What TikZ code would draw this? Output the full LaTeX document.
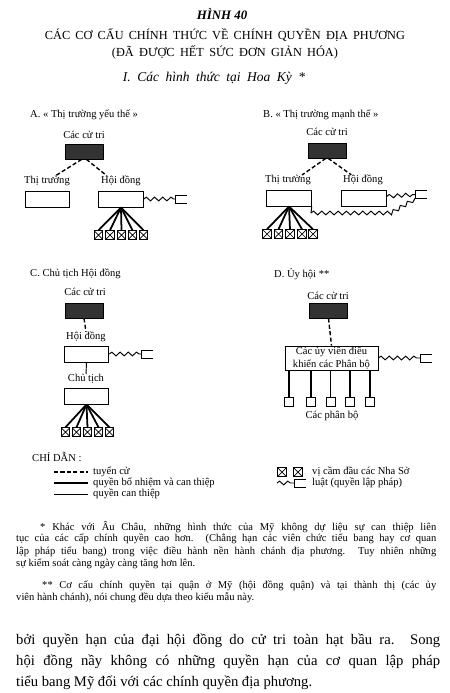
\documentclass[tikz,border=0pt]{standalone}
\usepackage{fontspec}
\setmainfont{Liberation Serif}
\usetikzlibrary{decorations.pathmorphing}

\begin{document}
\begin{tikzpicture}[x=0.03cm,y=-0.03cm,
    every node/.style={inner sep=0pt},
    lbl/.style={font=\fontsize{9}{10}\selectfont},
    box/.style={draw,line width=0.8pt,minimum width=1.34cm,minimum height=0.48cm},
    voters/.style={draw,fill=black!80,line width=0.6pt,minimum width=1.14cm,minimum height=0.45cm},
    office/.style={draw,line width=0.7pt,minimum size=0.26cm,
        path picture={\draw[line width=0.6pt] (path picture bounding box.north west) -- (path picture bounding box.south east)
            (path picture bounding box.south west) -- (path picture bounding box.north east);}},
    division/.style={draw,line width=0.8pt,minimum size=0.27cm},
    vote/.style={line width=1.2pt,dash pattern=on 3.5pt off 2pt},
    appoint/.style={line width=1.5pt},
    interv/.style={line width=0.8pt},
    law/.style={line width=0.8pt,decorate,decoration={snake,amplitude=1.6pt,segment length=7pt}},
    plug/.pic={\draw[line width=0.8pt] (12,-4) -- (0,-4) -- (0,4) -- (12,4);}]
    \useasboundingbox (0,0) rectangle (450,693);

    % headings
    \node[font=\bfseries\itshape\fontsize{11}{13}\selectfont] (fig) at (222,14) {HÌNH 40};
    \node[font=\fontsize{10.5}{12}\selectfont] (head1) at (225,35) {\makebox[10.8cm][s]{CÁC CƠ CẤU CHÍNH THỨC VỀ CHÍNH QUYỀN ĐỊA PHƯƠNG}};
    \node[font=\fontsize{10.5}{12}\selectfont] (head2) at (225,52) {\makebox[6.78cm][s]{(ĐÃ ĐƯỢC HẾT SỨC ĐƠN GIẢN HÓA)}};
    \node[font=\itshape\fontsize{11.5}{13}\selectfont] (part) at (214,78) {\makebox[5.46cm][s]{I. Các hình thức tại Hoa Kỳ *}};

    % A
    \node[lbl,anchor=west] (titA) at (30,115) {A. « Thị trường yếu thế »};
    \node[lbl] (ctAl) at (84,135) {Các cử tri};
    \node[voters] (ctA) at (84,151.5) {};
    \node[lbl] (ttAl) at (47,181) {Thị trường};
    \node[box] (ttA) at (47.5,199) {};
    \node[lbl] (hdAl) at (121,181) {Hội đồng};
    \node[box] (hdA) at (121,199) {};
    \draw[vote] ([xshift=-2pt]ctA.south) -- ([xshift=7pt]ttAl.north);
    \draw[vote] ([xshift=2pt]ctA.south) -- ([xshift=-12pt]hdAl.north);
    \coordinate (lawA) at (175,199);
    \draw[law] (hdA) -- (lawA);
    \pic at (lawA) {plug};
    \foreach \i/\x in {1/98.5,2/110,3/121.5,4/132.5,5/143.5}{
        \node[office] (sqA\i) at (\x,235) {};
        \draw[appoint] (hdA.south) -- (sqA\i.north);
    }

    % B
    \node[lbl,anchor=west] (titB) at (263,115) {B. « Thị trường mạnh thế »};
    \node[lbl] (ctBl) at (327,132) {Các cử tri};
    \node[voters] (ctB) at (327,150.5) {};
    \node[lbl] (ttBl) at (288,180) {Thị trường};
    \node[box] (ttB) at (289,198) {};
    \node[lbl] (hdBl) at (363,180) {Hội đồng};
    \node[box] (hdB) at (364,198) {};
    \draw[vote] ([xshift=-1pt]ctB.south) -- ([xshift=12pt]ttBl.north);
    \draw[vote] ([xshift=1pt]ctB.south) -- ([xshift=-10pt]hdBl.north);
    \coordinate (lawB) at (415,194.5);
    \coordinate (lawBb) at (415,198.5);
    \coordinate (bk1) at (311,213);
    \coordinate (bk2) at (390,213);
    \draw[law] (hdB) -- (lawB);
    \draw[interv] (ttB.south east) -- (bk1);
    \draw[law] (bk1) -- (bk2) -- (lawBb);
    \pic at (lawB) {plug};
    \foreach \i/\x in {1/267,2/278.5,3/290,4/302,5/313}{
        \node[office] (sqB\i) at (\x,234) {};
        \draw[appoint] (ttB.south) -- (sqB\i.north);
    }

    % C
    \node[lbl,anchor=west] (titC) at (30,274) {C. Chủ tịch Hội đồng};
    \node[lbl] (ctCl) at (85,292) {Các cử tri};
    \node[voters] (ctC) at (84,310.5) {};
    \node[lbl] (hdCl) at (86,337) {Hội đồng};
    \node[box] (hdC) at (86.5,354) {};
    \node[lbl] (ctrCl) at (86,379) {Chủ tịch};
    \node[box] (ctrC) at (86.5,396) {};
    \draw[vote] (ctC.south) -- (hdCl.north);
    \draw[interv] (hdC.south) -- (ctrCl.north);
    \coordinate (lawC) at (141,354);
    \draw[law] (hdC) -- (lawC);
    \pic at (lawC) {plug};
    \foreach \i/\x in {1/65.5,2/76.5,3/87.5,4/98.5,5/109.5}{
        \node[office] (sqC\i) at (\x,432) {};
        \draw[appoint] (ctrC.south) -- (sqC\i.north);
    }

    % D
    \node[lbl,anchor=west] (titD) at (274,274) {D. Ủy hội **};
    \node[lbl] (ctDl) at (328,296) {Các cử tri};
    \node[voters] (ctD) at (328.5,310.5) {};
    \node[draw,line width=0.8pt,minimum width=2.79cm,minimum height=0.72cm,align=center,
        font=\fontsize{9}{11}\selectfont] (uvD) at (331.5,358) {Các ủy viên điều\\khiển các Phân bộ};
    \draw[vote] (ctD.south) -- (uvD.north);
    \coordinate (lawD) at (420,358);
    \draw[law] (uvD) -- (lawD);
    \pic at (lawD) {plug};
    \foreach \i/\x in {1/289,2/311,3/330.5,4/350,5/370}{
        \node[division] (pbD\i) at (\x,401.5) {};
        \draw[appoint] (uvD.south -| pbD\i) -- (pbD\i.north);
    }
    \node[lbl] (pbDl) at (332,416) {Các phân bộ};

    % key
    \node[lbl,anchor=west] (key) at (32,457) {CHỈ DẪN :};
    \coordinate (k1a) at (54,472);
    \coordinate (k1b) at (88,472);
    \draw[vote] (k1a) -- (k1b);
    \node[lbl,anchor=west] (k1) at (93,472) {tuyển cử};
    \coordinate (k2a) at (54,483);
    \coordinate (k2b) at (88,483);
    \draw[line width=2.2pt] (k2a) -- (k2b);
    \node[lbl,anchor=west] (k2) at (93,483) {quyền bổ nhiệm và can thiệp};
    \coordinate (k3a) at (54,494);
    \coordinate (k3b) at (88,494);
    \draw[interv] (k3a) -- (k3b);
    \node[lbl,anchor=west] (k3) at (93,494) {quyền can thiệp};
    \node[office] (ko1) at (282,472) {};
    \node[office] (ko2) at (298,472) {};
    \node[lbl,anchor=west] (k4) at (312,472) {vị cầm đầu các Nha Sở};
    \coordinate (k5a) at (277,483);
    \coordinate (k5b) at (294,483);
    \draw[law] (k5a) -- (k5b);
    \pic at (k5b) {plug};
    \node[lbl,anchor=west] (k5) at (312,483) {luật (quyền lập pháp)};

    % notes
    \node[font=\fontsize{9}{10}\selectfont,anchor=west] (fn1) at (40,527) {\makebox[11.88cm][s]{* Khác với Âu Châu, những hình thức của Mỹ không dự liệu sự can thiệp liên}};
    \node[font=\fontsize{9}{10}\selectfont,anchor=west] (fn2) at (16,539) {\makebox[12.6cm][s]{tục của các cấp chính quyền cao hơn. (Chẳng hạn các viên chức tiểu bang hay cơ quan}};
    \node[font=\fontsize{9}{10}\selectfont,anchor=west] (fn3) at (16,552) {\makebox[12.6cm][s]{lập pháp tiểu bang) trong việc điều hành nền hành chánh địa phương. Tuy nhiên những}};
    \node[font=\fontsize{9}{10}\selectfont,anchor=west] (fn4) at (16,564) {sự kiểm soát càng ngày càng tăng hơn lên.};
    \node[font=\fontsize{9}{10}\selectfont,anchor=west] (fn5) at (42,586) {\makebox[11.82cm][s]{** Cơ cấu chính quyền tại quận ở Mỹ (hội đồng quận) và tại thành thị (các ủy}};
    \node[font=\fontsize{9}{10}\selectfont,anchor=west] (fn6) at (16,598) {viên hành chánh), nói chung đều dựa theo kiểu mẫu này.};

    % text
    \node[font=\fontsize{12.5}{15}\selectfont,anchor=west] (tx1) at (16,641) {\makebox[12.72cm][s]{bởi quyền hạn của đại hội đồng do cử tri toàn hạt bầu ra. Song}};
    \node[font=\fontsize{12.5}{15}\selectfont,anchor=west] (tx2) at (16,662) {\makebox[12.72cm][s]{hội đồng nầy không có những quyền hạn của cơ quan lập pháp}};
    \node[font=\fontsize{12.5}{15}\selectfont,anchor=west] (tx3) at (16,683) {tiểu bang Mỹ đối với các chính quyền địa phương.};
\end{tikzpicture}
\end{document}
